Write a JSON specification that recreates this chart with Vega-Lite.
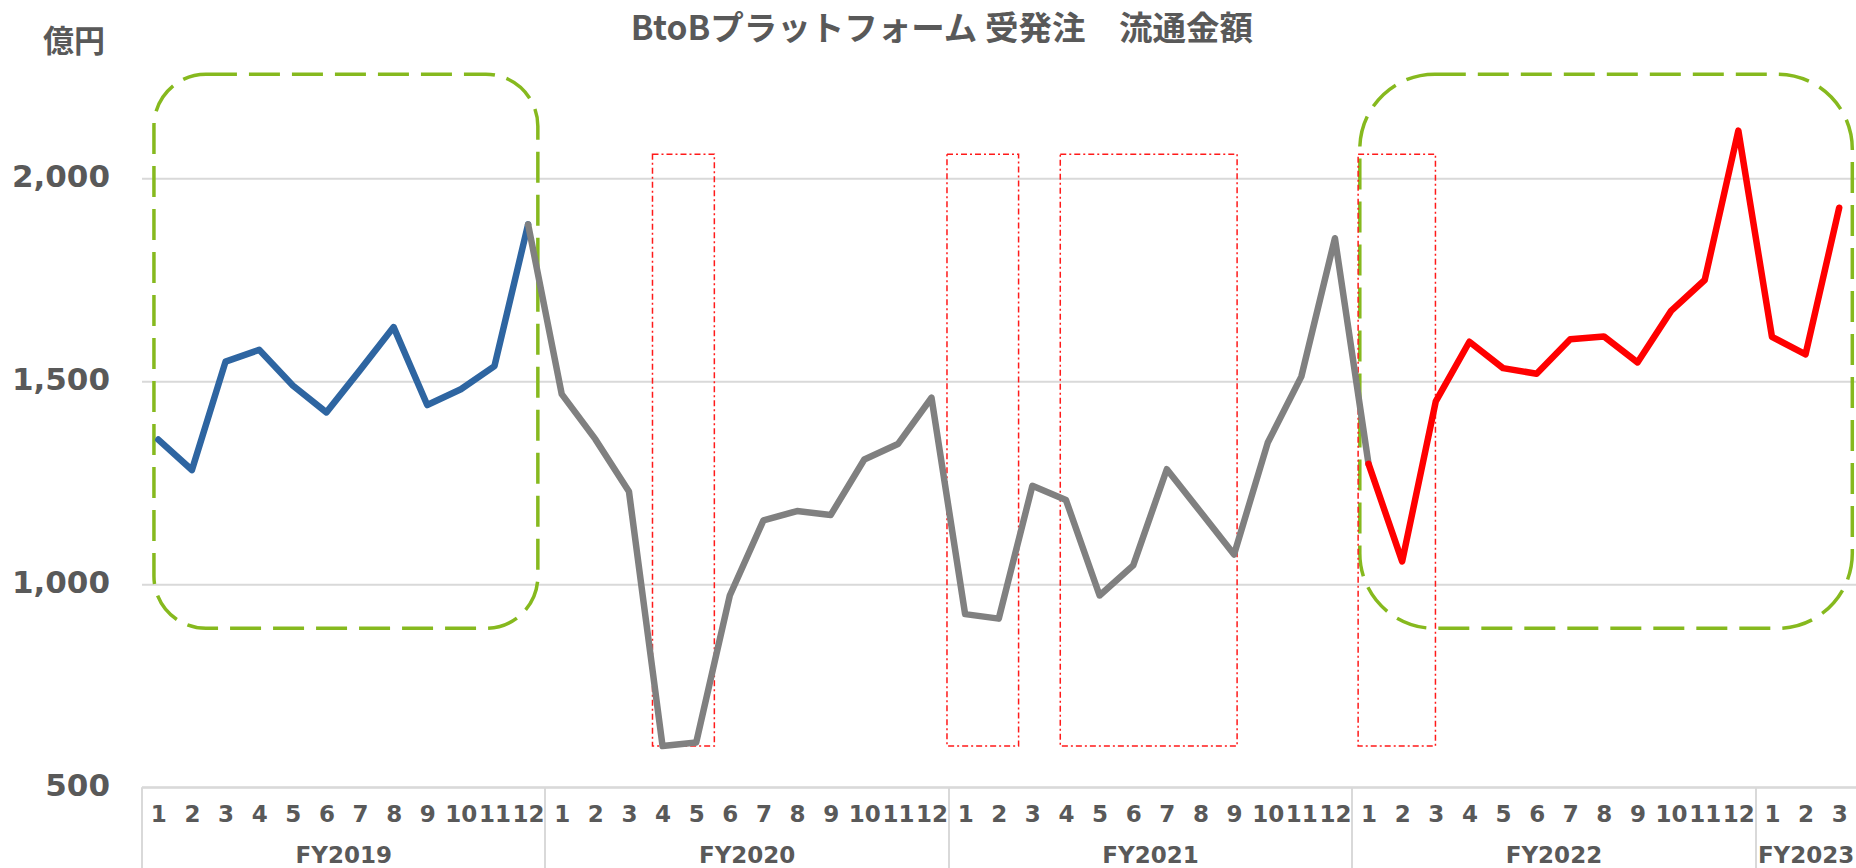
{
  "$schema": "https://vega.github.io/schema/vega-lite/v6.json",
  "width": 1714.5,
  "height": 710.5,
  "autosize": {"type": "none"},
  "padding": {"left": 141.5, "top": 76.2, "right": 0, "bottom": 81.3},
  "background": "white",
  "config": {"view": {"stroke": null}},
  "title": {
    "text": "BtoBプラットフォーム 受発注　流通金額",
    "font": "Noto Sans CJK JP",
    "fontSize": 33.5,
    "fontWeight": "bold",
    "color": "#595959",
    "anchor": "middle",
    "frame": "group",
    "baseline": "alphabetic",
    "offset": -47,
    "dx": -57
  },
  "datasets": {
    "sales": [
      {"idx": 1, "v": 1355, "s": "a"}, {"idx": 2, "v": 1280, "s": "a"}, {"idx": 3, "v": 1547, "s": "a"},
      {"idx": 4, "v": 1576, "s": "a"}, {"idx": 5, "v": 1488, "s": "a"}, {"idx": 6, "v": 1422, "s": "a"},
      {"idx": 7, "v": 1526, "s": "a"}, {"idx": 8, "v": 1632, "s": "a"}, {"idx": 9, "v": 1440, "s": "a"},
      {"idx": 10, "v": 1479, "s": "a"}, {"idx": 11, "v": 1536, "s": "a"}, {"idx": 12, "v": 1885, "s": "a"},
      {"idx": 12, "v": 1885, "s": "b"}, {"idx": 13, "v": 1467, "s": "b"}, {"idx": 14, "v": 1356, "s": "b"},
      {"idx": 15, "v": 1227, "s": "b"}, {"idx": 16, "v": 600, "s": "b"}, {"idx": 17, "v": 609, "s": "b"},
      {"idx": 18, "v": 971, "s": "b"}, {"idx": 19, "v": 1156, "s": "b"}, {"idx": 20, "v": 1179, "s": "b"},
      {"idx": 21, "v": 1169, "s": "b"}, {"idx": 22, "v": 1306, "s": "b"}, {"idx": 23, "v": 1344, "s": "b"},
      {"idx": 24, "v": 1458, "s": "b"}, {"idx": 25, "v": 925, "s": "b"}, {"idx": 26, "v": 914, "s": "b"},
      {"idx": 27, "v": 1241, "s": "b"}, {"idx": 28, "v": 1206, "s": "b"}, {"idx": 29, "v": 971, "s": "b"},
      {"idx": 30, "v": 1045, "s": "b"}, {"idx": 31, "v": 1282, "s": "b"}, {"idx": 32, "v": 1177, "s": "b"},
      {"idx": 33, "v": 1072, "s": "b"}, {"idx": 34, "v": 1347, "s": "b"}, {"idx": 35, "v": 1510, "s": "b"},
      {"idx": 36, "v": 1851, "s": "b"}, {"idx": 37, "v": 1295, "s": "b"},
      {"idx": 37, "v": 1295, "s": "c"}, {"idx": 38, "v": 1055, "s": "c"}, {"idx": 39, "v": 1449, "s": "c"},
      {"idx": 40, "v": 1596, "s": "c"}, {"idx": 41, "v": 1531, "s": "c"}, {"idx": 42, "v": 1517, "s": "c"},
      {"idx": 43, "v": 1602, "s": "c"}, {"idx": 44, "v": 1609, "s": "c"}, {"idx": 45, "v": 1545, "s": "c"},
      {"idx": 46, "v": 1672, "s": "c"}, {"idx": 47, "v": 1748, "s": "c"}, {"idx": 48, "v": 2116, "s": "c"},
      {"idx": 49, "v": 1608, "s": "c"}, {"idx": 50, "v": 1565, "s": "c"}, {"idx": 51, "v": 1926, "s": "c"}
    ],
    "greenA": [{"x1": 0.87, "x2": 12.29, "y1": 890, "y2": 2255}],
    "greenB": [{"x1": 36.74, "x2": 51.39, "y1": 890, "y2": 2255}],
    "redBoxes": [
      {"x1": 15.70, "x2": 17.54, "y1": 600, "y2": 2058},
      {"x1": 24.46, "x2": 26.59, "y1": 600, "y2": 2058},
      {"x1": 27.83, "x2": 33.09, "y1": 600, "y2": 2058},
      {"x1": 36.69, "x2": 38.99, "y1": 600, "y2": 2058}
    ]
  },
  "layer": [
    {
      "data": {"name": "greenA"},
      "mark": {"type": "rect", "filled": false, "stroke": "#86B91E", "strokeWidth": 3.5, "strokeDash": [31, 12], "cornerRadius": 52},
      "encoding": {
        "x": {
          "field": "x1", "type": "quantitative",
          "scale": {"domain": [0.5, 51.5], "nice": false, "zero": false},
          "axis": {
            "orient": "bottom",
            "values": [6.5, 18.5, 30.5, 42.5, 50],
            "labelExpr": "datum.value < 12 ? 'FY2019' : datum.value < 24 ? 'FY2020' : datum.value < 36 ? 'FY2021' : datum.value < 48 ? 'FY2022' : 'FY2023'",
            "ticks": false, "tickSize": 0, "domain": false, "grid": false, "title": null,
            "labelFont": "DejaVu Sans", "labelFontSize": 23, "labelFontWeight": "bold", "labelColor": "#595959",
            "labelPadding": 69, "labelBaseline": "middle", "labelAngle": 0,
            "labelOverlap": false, "labelFlush": false, "labelBound": false
          }
        },
        "x2": {"field": "x2"},
        "y": {"field": "y1", "type": "quantitative", "scale": {"domain": [500, 2250], "nice": false, "zero": false}, "axis": null},
        "y2": {"field": "y2"}
      }
    },
    {
      "data": {"name": "greenB"},
      "mark": {"type": "rect", "filled": false, "stroke": "#86B91E", "strokeWidth": 3.5, "strokeDash": [31, 12], "cornerRadius": 75},
      "encoding": {
        "x": {"field": "x1", "type": "quantitative", "scale": {"domain": [0.5, 51.5], "nice": false, "zero": false}, "axis": null},
        "x2": {"field": "x2"},
        "y": {"field": "y1", "type": "quantitative", "scale": {"domain": [500, 2250], "nice": false, "zero": false}, "axis": null},
        "y2": {"field": "y2"}
      }
    },
    {
      "data": {"name": "redBoxes"},
      "mark": {"type": "rect", "filled": false, "stroke": "#FF1A1A", "strokeWidth": 1.5, "strokeDash": [6, 3, 2, 3]},
      "encoding": {
        "x": {
          "field": "x1", "type": "quantitative",
          "scale": {"domain": [0.5, 51.5], "nice": false, "zero": false},
          "axis": {
            "orient": "bottom",
            "values": [0.5, 12.5, 24.5, 36.5, 48.5, 51.5],
            "labels": false, "ticks": true, "tickSize": 82, "tickColor": "#D9D9D9", "tickWidth": 2,
            "domain": false, "grid": false, "title": null
          }
        },
        "x2": {"field": "x2"},
        "y": {"field": "y1", "type": "quantitative", "scale": {"domain": [500, 2250], "nice": false, "zero": false}, "axis": null},
        "y2": {"field": "y2"}
      }
    },
    {
      "data": {"name": "sales"},
      "mark": {"type": "line", "strokeWidth": 6.5, "strokeCap": "round", "strokeJoin": "round"},
      "encoding": {
        "x": {
          "field": "idx", "type": "quantitative",
          "scale": {"domain": [0.5, 51.5], "nice": false, "zero": false},
          "axis": {
            "orient": "bottom",
            "values": [1,2,3,4,5,6,7,8,9,10,11,12,13,14,15,16,17,18,19,20,21,22,23,24,25,26,27,28,29,30,31,32,33,34,35,36,37,38,39,40,41,42,43,44,45,46,47,48,49,50,51],
            "labelExpr": "datum.value <= 48 ? ((datum.value - 1) % 12) + 1 : datum.value - 48",
            "ticks": false, "tickSize": 0, "domain": true, "domainColor": "#D9D9D9", "domainWidth": 2,
            "grid": false, "title": null,
            "labelFont": "DejaVu Sans", "labelFontSize": 23, "labelFontWeight": "bold", "labelColor": "#595959",
            "labelPadding": 27.5, "labelBaseline": "middle", "labelAngle": 0,
            "labelOverlap": false, "labelFlush": false, "labelBound": false
          }
        },
        "y": {
          "field": "v", "type": "quantitative",
          "scale": {"domain": [500, 2250], "nice": false, "zero": false},
          "axis": {
            "orient": "left",
            "values": [500, 1000, 1500, 2000],
            "format": ",.0f",
            "grid": true, "gridColor": "#D9D9D9", "gridWidth": 2,
            "domain": false, "ticks": false, "tickSize": 0,
            "labelFont": "DejaVu Sans", "labelFontSize": 31, "labelFontWeight": "bold", "labelColor": "#595959",
            "labelPadding": 32, "labelBaseline": "middle",
            "title": "億円", "titleAngle": 0, "titleAlign": "center", "titleBaseline": "middle",
            "titleX": -68, "titleY": -33.7,
            "titleFont": "Noto Sans CJK JP", "titleFontSize": 31, "titleFontWeight": "bold", "titleColor": "#595959"
          }
        },
        "color": {
          "field": "s", "type": "nominal",
          "scale": {"domain": ["a", "b", "c"], "range": ["#2E65A1", "#808080", "#FF0000"]},
          "legend": null
        }
      }
    }
  ],
  "resolve": {"axis": {"x": "independent", "y": "independent"}}
}
